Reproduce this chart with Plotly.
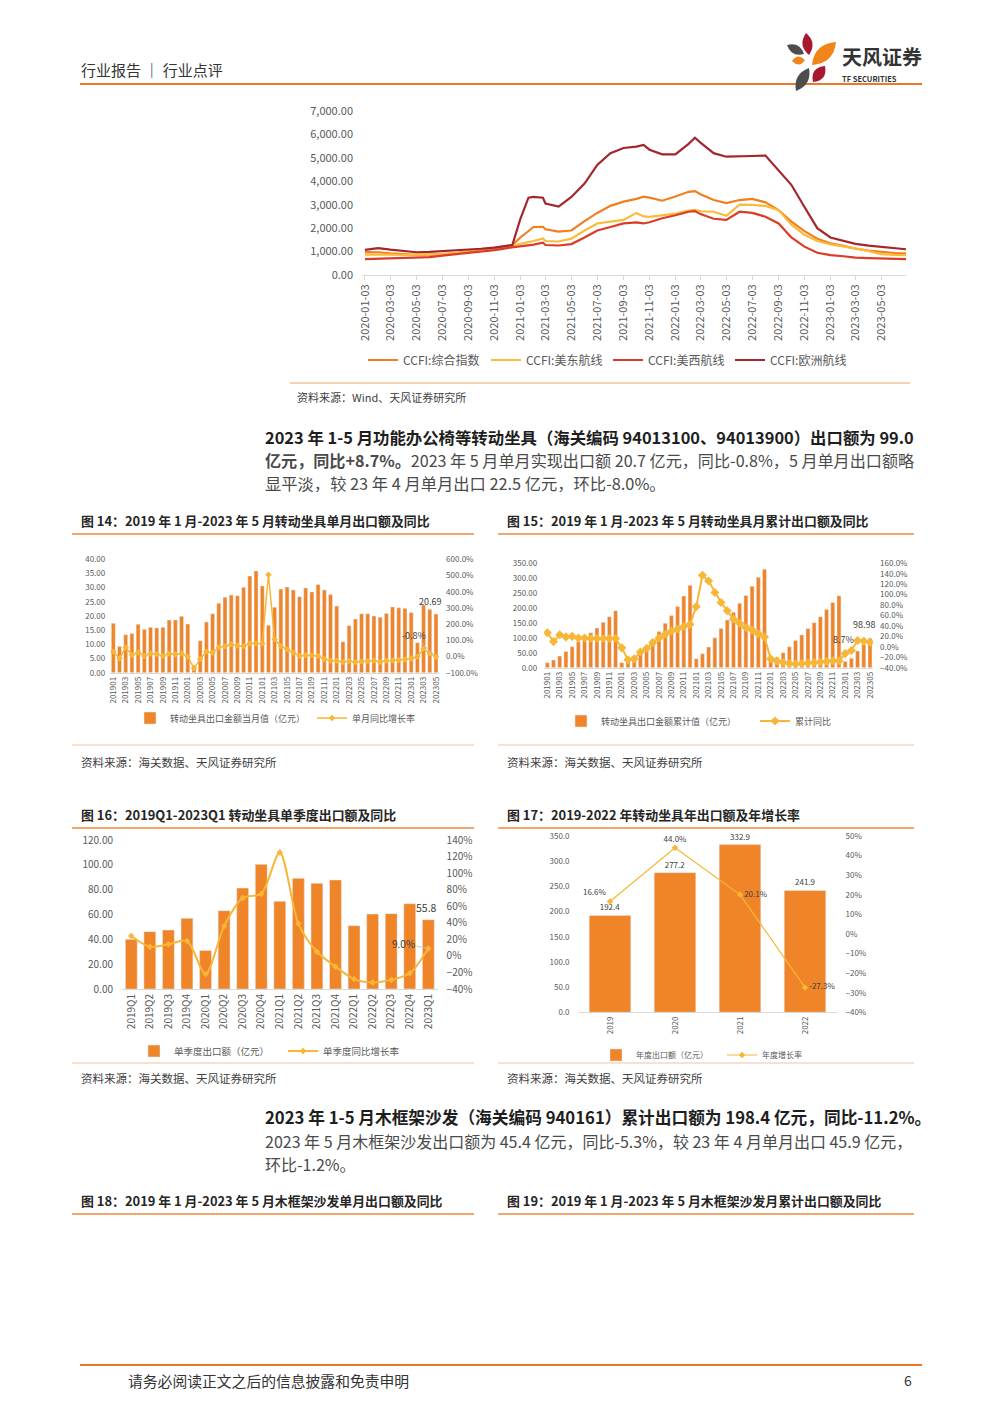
import plotly.graph_objects as go

# ---------------- data ----------------
ccfi_dates = ['2020-01-03', '2020-02-03', '2020-03-03', '2020-04-03', '2020-05-03', '2020-06-03',
              '2020-07-03', '2020-08-03', '2020-09-03', '2020-10-03', '2020-11-03', '2020-12-03',
              '2020-12-15',
              '2021-01-03', '2021-01-22', '2021-02-03', '2021-02-25', '2021-03-03', '2021-04-03',
              '2021-05-03', '2021-06-03', '2021-07-03', '2021-08-03', '2021-09-03', '2021-10-03',
              '2021-10-20', '2021-11-03', '2021-12-03',
              '2022-01-03', '2022-02-03', '2022-02-18', '2022-03-03', '2022-04-03', '2022-05-03',
              '2022-06-03', '2022-07-03', '2022-08-03', '2022-09-03', '2022-10-03', '2022-11-03',
              '2022-12-03',
              '2023-01-03', '2023-02-03', '2023-03-03', '2023-04-03', '2023-05-03', '2023-06-03',
              '2023-06-30']
ccfi_comp = [980, 970, 920, 890, 860, 870, 880, 920, 1000, 1100, 1150, 1250, 1280,
             1600, 1900, 2050, 2060, 1950, 1850, 1900, 2300, 2650, 2950, 3130, 3250, 3340, 3300, 3170,
             3350, 3550, 3580, 3450, 3200, 3070, 3200, 3250, 3100, 2770, 2280, 1870, 1550,
             1350, 1240, 1120, 1040, 980, 940, 910]
ccfi_east = [870, 880, 870, 860, 860, 880, 890, 930, 1030, 1120, 1170, 1230, 1260,
             1330, 1400, 1450, 1560, 1450, 1430, 1550, 1900, 2200, 2280, 2350, 2650, 2500, 2480, 2560,
             2620, 2750, 2780, 2720, 2700, 2530, 3000, 2990, 2950, 2770, 2150, 1720, 1450,
             1310, 1230, 1140, 1020, 890, 860, 850]
ccfi_west = [680, 700, 700, 720, 740, 760, 830, 890, 950, 1020, 1060, 1150, 1180,
             1200, 1250, 1300, 1380, 1280, 1260, 1320, 1600, 1900, 2050, 2200, 2250, 2200, 2250, 2420,
             2550, 2700, 2730, 2600, 2400, 2350, 2700, 2650, 2490, 2200, 1600, 1210, 950,
             850, 800, 740, 720, 700, 700, 680]
ccfi_eu = [1070, 1150, 1080, 1020, 970, 990, 1020, 1040, 1070, 1120, 1170, 1230, 1280,
           2400, 3300, 3330, 3300, 3050, 2920, 3330, 3900, 4700, 5200, 5420, 5480, 5550, 5350, 5150,
           5150, 5600, 5860, 5650, 5200, 5050, 5050, 5080, 5100, 4450, 3850, 2900, 2000,
           1600, 1450, 1330, 1250, 1190, 1150, 1100]
ccfi_ticks = ['2020-01-03', '2020-03-03', '2020-05-03', '2020-07-03', '2020-09-03', '2020-11-03',
              '2021-01-03', '2021-03-03', '2021-05-03', '2021-07-03', '2021-09-03', '2021-11-03',
              '2022-01-03', '2022-03-03', '2022-05-03', '2022-07-03', '2022-09-03', '2022-11-03',
              '2023-01-03', '2023-03-03', '2023-05-03']
ccfi_names = ['CCFI:综合指数', 'CCFI:美东航线', 'CCFI:美西航线', 'CCFI:欧洲航线']

months = [f"{y}{m:02d}" for y in range(2019, 2024) for m in range(1, 13)][:53]

# Fig 14: monthly export (100m CNY) and yoy (%)
m_val = [17.4, 9.2, 13.4, 13.8, 17.1, 15.3, 16.0, 15.8, 16.0, 18.6, 18.6, 19.9,
         17.2, 2.5, 11.3, 17.9, 20.8, 24.5, 26.6, 27.4, 27.1, 30.1, 34.1, 35.9,
         30.6, 16.7, 23.1, 29.5, 30.2, 29.2, 26.8, 29.9, 28.5, 31.1, 29.2, 27.6,
         23.5, 10.9, 16.6, 18.9, 20.8, 20.8, 20.0, 19.6, 20.9, 23.2, 22.9, 22.7,
         21.2, 10.6, 23.9, 22.4, 20.69]
m_yoy = [29, -12, 56, 9, 25, 3, 19, 15, 3, 19, 13, 19,
         -1, -73, -16, 29, 23, 56, 64, 75, 66, 64, 81, 81,
         81, 505, 106, 64, 44, 23, 3, 7, 7, 3, -16, -26,
         -26, -34, -28, -36, -31, -29, -25, -34, -27, -25, -22, -18,
         -12, -2, 48, 18, -0.8]

# Fig 15: cumulative export and cumulative yoy (%)
c_val = [16.8, 25.7, 39, 54, 70, 87, 104, 117, 133, 152, 171, 191,
         17, 20, 32, 50, 71, 95, 121, 149, 175, 205, 240, 276,
         30, 47, 69, 100, 131, 160, 186, 216, 242, 273, 303, 330,
         23, 34, 50, 70, 91, 110, 131, 151, 171, 195, 219, 241,
         21, 32, 56, 78, 98.98]
c_yoy = [27, 10, 23, 19, 20, 17, 17, 16, 16, 16, 16, 16,
         -2, -25, -23, -10, -3, 8, 17, 24, 30, 34, 39, 43,
         77, 137, 126, 104, 85, 69, 53, 45, 37, 32, 25, 19,
         -23, -27, -30, -32, -33, -32, -31, -30, -29, -28, -27, -27,
         -13, -7, 12, 11, 8.7]

# Fig 16: quarterly
quarters = ['2019Q1', '2019Q2', '2019Q3', '2019Q4', '2020Q1', '2020Q2', '2020Q3', '2020Q4',
            '2021Q1', '2021Q2', '2021Q3', '2021Q4', '2022Q1', '2022Q2', '2022Q3', '2022Q4', '2023Q1']
q_val = [40.0, 46.2, 47.5, 56.9, 31.1, 63.1, 81.3, 100.4, 70.6, 89.1, 85.1, 87.8,
         51.0, 60.4, 60.7, 68.7, 55.8]
q_yoy = [24, 11, 14, 18, -22, 36, 70, 75, 125, 39, 5, -13, -28, -32, -29, -21, 9.0]

# Fig 17: annual
years = ['2019', '2020', '2021', '2022']
y_val = [192.4, 277.2, 332.9, 241.9]
y_yoy = [16.6, 44.0, 20.1, -27.3]

# ---------------- styling helpers ----------------
# the page body keeps an 8px margin, so the figure is 984x1397 and pixel positions
# below are given in screenshot coordinates
OFF = 8
W, H = 1000 - 2 * OFF, 1413 - 2 * OFF


def X(v):
    return (v - OFF) / W


def Y(v):
    return 1 - (v - OFF) / H


FONT = "Noto Sans CJK SC"
BAR = "#F08428"
LINE = "#F7B636"
AXC = "#595959"
GRID = "#D9D9D9"
RULE = "#EB8A3C"

fig = go.Figure()

# ---------------- CCFI chart ----------------
ccfi_cols = ["#F07F1E", "#F9BC3A", "#DC3B28", "#A4262C"]
for i, (nm, vals, col) in enumerate(zip(ccfi_names, [ccfi_comp, ccfi_east, ccfi_west, ccfi_eu], ccfi_cols)):
    fig.add_trace(go.Scatter(x=ccfi_dates, y=vals, name=nm, mode='lines',
                             line=dict(color=col, width=2.2), xaxis='x', yaxis='y',
                             legend='legend' if i == 0 else f'legend{i + 1}'))

# ---------------- Fig 14 ----------------
fig.add_trace(go.Bar(x=months, y=m_val, name='转动坐具出口金额当月值（亿元）', marker_color=BAR,
                     xaxis='x2', yaxis='y2', legend='legend5'))
fig.add_trace(go.Scatter(x=months, y=m_yoy, name='单月同比增长率', mode='lines+markers',
                         line=dict(color=LINE, width=1.5),
                         marker=dict(symbol='diamond', size=5, color=LINE),
                         xaxis='x2', yaxis='y3', legend='legend6'))

# ---------------- Fig 15 ----------------
fig.add_trace(go.Bar(x=months, y=c_val, name='转动坐具出口金额累计值（亿元）', marker_color=BAR,
                     xaxis='x3', yaxis='y4', legend='legend7'))
fig.add_trace(go.Scatter(x=months, y=c_yoy, name='累计同比', mode='lines+markers',
                         line=dict(color=LINE, width=2),
                         marker=dict(symbol='diamond', size=7, color=LINE),
                         xaxis='x3', yaxis='y5', legend='legend8'))

# ---------------- Fig 16 ----------------
fig.add_trace(go.Bar(x=quarters, y=q_val, name='单季度出口额（亿元）', marker_color=BAR,
                     xaxis='x4', yaxis='y6', legend='legend9'))
fig.add_trace(go.Scatter(x=quarters, y=q_yoy, name='单季度同比增长率', mode='lines+markers',
                         line=dict(color=LINE, width=2, shape='spline', smoothing=0.8),
                         marker=dict(symbol='diamond', size=5, color=LINE),
                         xaxis='x4', yaxis='y7', legend='legend10'))

# ---------------- Fig 17 ----------------
fig.add_trace(go.Bar(x=years, y=y_val, name='年度出口额（亿元）', marker_color=BAR,
                     text=[f"{v:.1f}" for v in y_val], textposition='outside',
                     textfont=dict(size=8, color='#404040'), cliponaxis=False,
                     xaxis='x5', yaxis='y8', legend='legend11'))
fig.add_trace(go.Scatter(x=years, y=y_yoy, name='年度增长率', mode='lines+markers+text',
                         text=[f"{v:.1f}%" for v in y_yoy],
                         textposition=['top left', 'top center', 'middle right', 'middle right'],
                         textfont=dict(size=8, color='#404040'),
                         line=dict(color=LINE, width=1.2),
                         marker=dict(symbol='diamond', size=5, color=LINE), cliponaxis=False,
                         xaxis='x5', yaxis='y9', legend='legend12'))


# ---------------- axes ----------------
def xcat(domain, anchor, cats, vals, size):
    return dict(domain=domain, anchor=anchor, type='category', tickvals=vals, tickangle=-90,
                range=[-0.5, len(cats) - 0.5], automargin=False,
                tickfont=dict(size=size, color=AXC), showline=True, linecolor=GRID, linewidth=1,
                showgrid=False, zeroline=False, ticks='')


def yleft(domain, anchor, rng, dtick, fmt, size, so):
    return dict(domain=domain, anchor=anchor, range=rng, dtick=dtick, tickformat=fmt, automargin=False,
                ticklabelstandoff=so,
                tickfont=dict(size=size, color=AXC), showgrid=False, zeroline=False, showline=False)


def yright(over, anchor, rng, dtick, fmt, size, so):
    return dict(overlaying=over, side='right', anchor=anchor, range=rng, dtick=dtick, automargin=False,
                ticklabelstandoff=so,
                tickformat=fmt, ticksuffix='%', tickfont=dict(size=size, color=AXC),
                showgrid=False, zeroline=False, showline=False)


layout_axes = dict(
    xaxis=dict(domain=[X(362), X(906)], anchor='y', type='date', automargin=False,
               range=['2019-12-27', '2023-06-30'], tickvals=ccfi_ticks, tickformat='%Y-%m-%d',
               tickangle=-90, tickfont=dict(size=11, color=AXC), showline=True, linecolor=GRID,
               ticks='outside', ticklen=4, tickcolor=GRID, showgrid=False, zeroline=False),
    yaxis=dict(domain=[Y(275), Y(111)], anchor='x', range=[0, 7000], dtick=1000, automargin=False,
               ticklabelstandoff=8,
               tickformat=',.2f', tickfont=dict(size=11, color=AXC), showgrid=False,
               zeroline=False),
    xaxis2=xcat([X(110.2), X(439.1)], 'y2', months, months[::2], 8),
    yaxis2=yleft([Y(672.7), Y(559.3)], 'x2', [0, 40], 5, '.2f', 8, 4),
    yaxis3=yright('y2', 'x2', [-100, 600], 100, '.1f', 8, 6),
    xaxis3=xcat([X(544.2), X(873.1)], 'y4', months, months[::2], 8),
    yaxis4=yleft([Y(667.7), Y(563.3)], 'x3', [0, 350], 50, '.2f', 8, 6),
    yaxis5=yright('y4', 'x3', [-40, 160], 20, '.1f', 8, 6),
    xaxis4=xcat([X(122), X(437.6)], 'y6', quarters, quarters, 10),
    yaxis6=yleft([Y(989), Y(840)], 'x4', [0, 120], 20, '.2f', 10, 8),
    yaxis7=yright('y6', 'x4', [-40, 140], 20, 'd', 10, 8),
    xaxis5=xcat([X(577.5), X(837.5)], 'y8', years, years, 8),
    yaxis8=yleft([Y(1012.3), Y(836)], 'x5', [0, 350], 50, '.1f', 8, 7),
    yaxis9=yright('y8', 'x5', [-40, 50], 10, 'd', 8, 7),
)

# ---------------- legends (one per entry for exact placement) ----------------
legend_specs = {
    'legend': (363, 360, 12), 'legend2': (486, 360, 12), 'legend3': (608, 360, 12), 'legend4': (730, 360, 12),
    'legend5': (130, 718, 9), 'legend6': (312, 718, 9),
    'legend7': (561, 721, 9), 'legend8': (755, 721, 9),
    'legend9': (134, 1051, 9.5), 'legend10': (283, 1051, 9.5),
    'legend11': (596, 1055, 8), 'legend12': (722, 1055, 8),
}
legends = {}
for key, (lx, ly, fs) in legend_specs.items():
    legends[key] = dict(x=X(lx), y=Y(ly), xanchor='left', yanchor='middle', orientation='h',
                        bgcolor='rgba(0,0,0,0)', borderwidth=0, itemwidth=30,
                        font=dict(size=fs, color=AXC, family=FONT))

# ---------------- text ----------------
ann = []


def txt(x, y, s, size, color='#333333', anchor='left', family=FONT):
    ann.append(dict(x=X(x), y=Y(y), xref='paper', yref='paper', text=s, showarrow=False,
                    xanchor=anchor, yanchor='middle', font=dict(size=size, color=color, family=family)))


txt(79, 69, '行业报告 ｜ 行业点评', 15, '#333333')
txt(840, 57, '<b>天风证券</b>', 20, '#333333')
txt(840, 78.5, '<b>TF SECURITIES</b>', 7.5, '#333333')

txt(295, 397, '资料来源：Wind、天风证券研究所', 11, '#404040')

BOLDC = '#1E1E1E'
REGC = '#4A4A4A'
txt(263, 437, '<b>2023 年 1-5 月功能办公椅等转动坐具（海关编码 94013100、94013900）出口额为 99.0</b>', 16.4, BOLDC)
txt(263, 460, '<b>亿元，同比+8.7%。</b>2023 年 5 月单月实现出口额 20.7 亿元，同比-0.8%，5 月单月出口额略', 16.1, REGC)
txt(263, 483, '显平淡，较 23 年 4 月单月出口 22.5 亿元，环比-8.0%。', 16.3, REGC)

TITC = '#262626'
txt(79, 520, '<b>图 14：2019 年 1 月-2023 年 5 月转动坐具单月出口额及同比</b>', 12.9, TITC)
txt(505, 520, '<b>图 15：2019 年 1 月-2023 年 5 月转动坐具月累计出口额及同比</b>', 12.9, TITC)
txt(79, 814, '<b>图 16：2019Q1-2023Q1 转动坐具单季度出口额及同比</b>', 12.9, TITC)
txt(505, 814, '<b>图 17：2019-2022 年转动坐具年出口额及年增长率</b>', 12.9, TITC)
txt(79, 1200, '<b>图 18：2019 年 1 月-2023 年 5 月木框架沙发单月出口额及同比</b>', 12.9, TITC)
txt(505, 1200, '<b>图 19：2019 年 1 月-2023 年 5 月木框架沙发月累计出口额及同比</b>', 12.9, TITC)

for sx, sy in [(79, 762), (505, 762), (79, 1078), (505, 1078)]:
    txt(sx, sy, '资料来源：海关数据、天风证券研究所', 11.5, '#404040')

txt(263, 1117, '<b>2023 年 1-5 月木框架沙发（海关编码 940161）累计出口额为 198.4 亿元，同比-11.2%。</b>', 16.7, BOLDC)
txt(263, 1141, '2023 年 5 月木框架沙发出口额为 45.4 亿元，同比-5.3%，较 23 年 4 月单月出口 45.9 亿元，', 16.0, REGC)
txt(263, 1164, '环比-1.2%。', 16.0, REGC)

txt(126, 1380, '请务必阅读正文之后的信息披露和免责申明', 14.8, '#333333')
txt(914, 1380, '6', 14, '#333333', anchor='right')

# data labels tied to axes (category index positions)
ann.append(dict(x=len(months) - 1, y=m_val[-1], xref='x2', yref='y2', text='20.69', showarrow=False,
                yanchor='bottom', xanchor='right', xshift=7, yshift=4,
                font=dict(size=9, color='#404040', family=FONT)))
ann.append(dict(x=len(months) - 1, y=m_yoy[-1], xref='x2', yref='y3', text='-0.8%', showarrow=True,
                arrowhead=0, arrowwidth=0.8, arrowcolor='#BFBFBF', ax=-22, ay=-21,
                font=dict(size=9, color='#404040', family=FONT)))
ann.append(dict(x=len(months) - 1, y=c_val[-1], xref='x3', yref='y4', text='98.98', showarrow=False,
                yanchor='bottom', xanchor='right', xshift=7, yshift=5,
                font=dict(size=9, color='#404040', family=FONT)))
ann.append(dict(x=len(months) - 1, y=c_yoy[-1], xref='x3', yref='y5', text='8.7%', showarrow=False,
                xanchor='right', xshift=-14, yshift=3, font=dict(size=9, color='#404040', family=FONT)))
ann.append(dict(x=len(quarters) - 1, y=q_val[-1], xref='x4', yref='y6', text='55.8', showarrow=False,
                yanchor='bottom', xshift=-2, yshift=3, font=dict(size=10.5, color='#404040', family=FONT)))
ann.append(dict(x=len(quarters) - 1, y=q_yoy[-1], xref='x4', yref='y7', text='9.0%', showarrow=True,
                arrowhead=0, arrowwidth=0.8, arrowcolor='#BFBFBF', ax=-25, ay=-5,
                font=dict(size=10, color='#404040', family=FONT)))

# ---------------- rules & logo ----------------
shapes = []


def hline(x0, x1, y, color, width):
    shapes.append(dict(type='line', xref='paper', yref='paper', x0=X(x0), x1=X(x1), y0=Y(y), y1=Y(y),
                       line=dict(color=color, width=width)))


hline(80, 922, 84, '#E8792B', 2)
hline(290, 910, 383, '#F0A868', 1)
for y0 in (534, 828, 1214):
    hline(72, 474, y0, RULE, 1.3)
    hline(498, 914, y0, RULE, 1.3)
for y0 in (745, 1063):
    hline(72, 474, y0, '#F3C29A', 1)
    hline(498, 914, y0, '#F3C29A', 1)
hline(80, 922, 1365, '#E8792B', 2)


def petal(x1, y1, x2, y2, wdt, color):
    mx, my = (x1 + x2) / 2, (y1 + y2) / 2
    dx, dy = x2 - x1, y2 - y1
    L = (dx * dx + dy * dy) ** 0.5
    nx, ny = -dy / L, dx / L
    c1 = (mx + nx * wdt, my + ny * wdt)
    c2 = (mx - nx * wdt, my - ny * wdt)
    path = (f"M {X(x1)},{Y(y1)} Q {X(c1[0])},{Y(c1[1])} {X(x2)},{Y(y2)} "
            f"Q {X(c2[0])},{Y(c2[1])} {X(x1)},{Y(y1)} Z")
    shapes.append(dict(type='path', xref='paper', yref='paper', path=path,
                       fillcolor=color, line=dict(width=0)))


petal(806, 33, 809, 55, 10, '#A6192E')
petal(787, 45, 804, 54, 9, '#4D4D4D')
petal(836, 42, 812, 65, 14, '#F08519')
petal(792, 61, 805, 60, 8, '#F08519')
petal(825, 66, 813, 82, 11, '#A6192E')
petal(809, 68, 796, 91, 11, '#4D4D4D')

fig.update_layout(
    width=W, height=H, margin=dict(l=0, r=0, t=0, b=0, autoexpand=False),
    paper_bgcolor='white', plot_bgcolor='rgba(0,0,0,0)',
    font=dict(family=FONT, color=AXC),
    bargap=0.36, showlegend=True,
    annotations=ann, shapes=shapes,
    **layout_axes, **legends,
)

fig.write_html("out.html")
